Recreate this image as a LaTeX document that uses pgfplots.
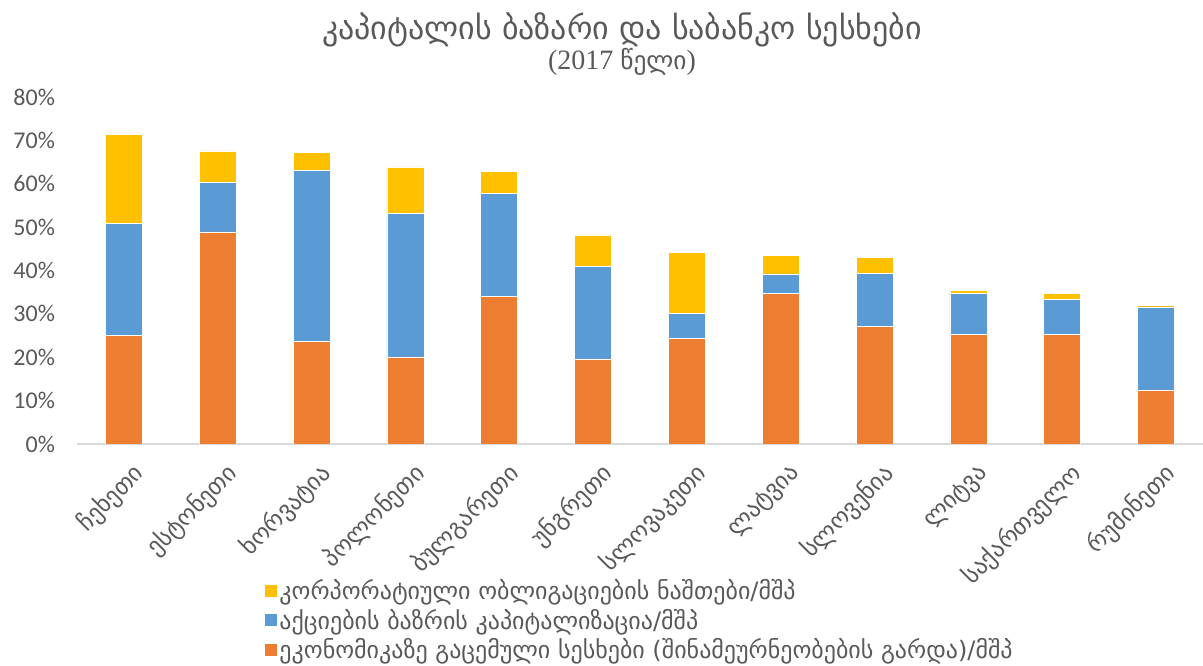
\documentclass[border=0pt]{standalone}
\usepackage{fontspec}
\setmainfont{Carlito}
\newfontfamily\geo{DejaVu Sans}
\newfontfamily\ser{Liberation Serif}
\usepackage{pgfplots}
\pgfplotsset{compat=1.18}
\definecolor{cOr}{HTML}{ED7D31}
\definecolor{cBl}{HTML}{5B9BD5}
\definecolor{cYe}{HTML}{FFC000}
\definecolor{txt}{HTML}{595959}
\definecolor{axl}{HTML}{D9D9D9}
\begin{document}
\begin{tikzpicture}
\begin{axis}[
  scale only axis, width=844.5pt, height=260.25pt,
  ybar stacked, bar width=27.75pt,
  xmin=-0.5, xmax=11.5, ymin=0, ymax=80,
  ytick={0,10,...,80},
  yticklabel={\pgfmathprintnumber{\tick}\%},
  /pgf/number format/assume math mode=true,
  xtick={0,...,11},
  xticklabels={ჩეხეთი,ესტონეთი,ხორვატია,პოლონეთი,ბულგარეთი,უნგრეთი,სლოვაკეთი,ლატვია,სლოვენია,ლიტვა,საქართველო,რუმინეთი},
  x tick label style={rotate=45, anchor=east, font=\geo\fontsize{18}{20}\selectfont, text=txt, yshift=-22pt, xshift=-2pt},
  y tick label style={font=\fontsize{18}{20}\selectfont, text=txt, xshift=-13pt},
  axis lines*=left,
  y axis line style={draw=none},
  x axis line style={draw=axl, line width=1.5pt},
  major tick length=0pt,
  reverse legend,
  legend style={at={(0.163,-0.375)}, anchor=north west, draw=none, fill=none,
    font=\geo\fontsize{18}{21}\selectfont, text=txt, row sep=1.5pt},
  legend cell align=left,
  legend image code/.code={\fill[#1,draw=none] (0pt,-4.5pt) rectangle (9pt,4.5pt);},
]
\addplot[fill=cOr, draw=white, line width=0.4pt] coordinates {(0,25.0) (1,48.9) (2,23.7) (3,20.1) (4,34.0) (5,19.6) (6,24.4) (7,34.7) (8,27.2) (9,25.3) (10,25.3) (11,12.5)};
\addlegendentry{ეკონომიკაზე გაცემული სესხები (შინამეურნეობების გარდა)/მშპ}
\addplot[fill=cBl, draw=white, line width=0.4pt] coordinates {(0,25.9) (1,11.4) (2,39.4) (3,33.0) (4,23.8) (5,21.3) (6,5.7) (7,4.5) (8,12.2) (9,9.5) (10,8.1) (11,19.1)};
\addlegendentry{აქციების ბაზრის კაპიტალიზაცია/მშპ}
\addplot[fill=cYe, draw=white, line width=0.4pt] coordinates {(0,20.5) (1,7.3) (2,4.2) (3,10.8) (4,5.0) (5,7.3) (6,14.1) (7,4.3) (8,3.6) (9,0.7) (10,1.4) (11,0.3)};
\addlegendentry{კორპორატიული ობლიგაციების ნაშთები/მშპ}
\coordinate (ll) at (rel axis cs:0,0);
\coordinate (ur) at (rel axis cs:1,1);
\end{axis}
\node[text=txt, font=\geo\fontsize{24}{28}\selectfont] at ([xshift=408.75pt,yshift=310.5pt]ll) {კაპიტალის ბაზარი და საბანკო სესხები};
\node[text=txt, font=\ser\fontsize{21}{24}\selectfont] at ([xshift=408.75pt,yshift=286.5pt]ll) {(2017 {\geo\fontsize{19}{24}\selectfont წელი})};
\pgfresetboundingbox
\path ([xshift=-57.75pt,yshift=-166.5pt]ll) rectangle ([yshift=72.75pt]ur);
\end{tikzpicture}
\end{document}
